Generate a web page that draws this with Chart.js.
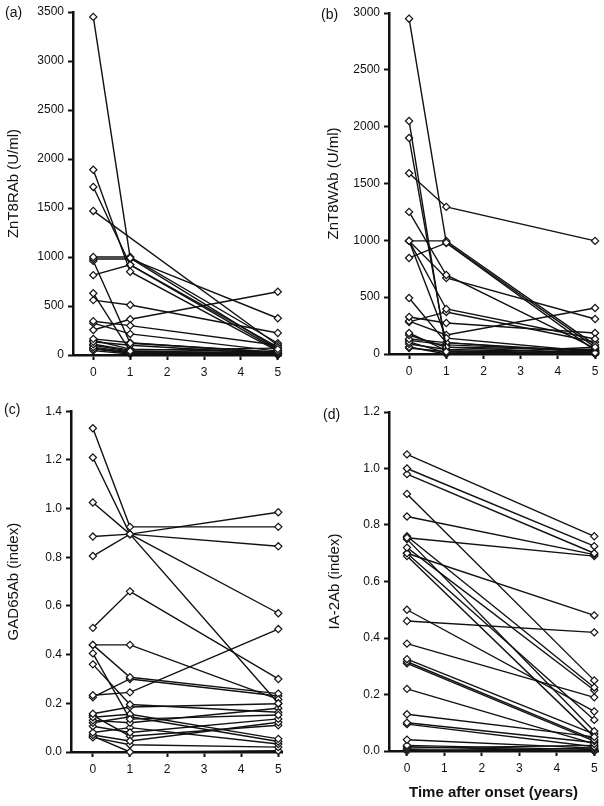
<!DOCTYPE html>
<html>
<head>
<meta charset="utf-8">
<script src="https://cdn.jsdelivr.net/npm/chart.js@4/dist/chart.umd.min.js"></script>
<style>
  body { margin: 0; background: #fff; width: 604px; height: 806px; position: relative; overflow: hidden; }
  .panel { position: absolute; }
  .tag { position: absolute; font: 14px "Liberation Sans", Arial, sans-serif; color: #111; }
</style>
</head>
<body>
<div class="panel" style="left:0;top:0"><canvas id="chartA" width="300" height="400"></canvas></div>
<div class="panel" style="left:300px;top:0"><canvas id="chartB" width="304" height="400"></canvas></div>
<div class="panel" style="left:0;top:400px"><canvas id="chartC" width="300" height="406"></canvas></div>
<div class="panel" style="left:300px;top:400px"><canvas id="chartD" width="304" height="406"></canvas></div>
<div class="tag" style="left:5px;top:4px">(a)</div>
<div class="tag" style="left:321px;top:6px">(b)</div>
<div class="tag" style="left:4px;top:401px">(c)</div>
<div class="tag" style="left:323px;top:406px">(d)</div>
<script>
// years after onset at which samples were taken
const years = [0, 1, 5];
const yearsD = [0, 5];

// (a) ZnT8RAb (U/ml), one entry per patient
const aYear0 = [3450, 1890, 1715, 1470, 1000, 980, 960, 815, 630, 560, 345, 325, 255, 165, 135, 110, 80, 60, 45, 150, 100, 70];
const aYear1 = [990, 850, 920, null, 1000, 980, 120, 920, 40, 510, 300, 215, 365, 125, 100, 50, 30, 20, 10, 60, 40, 20];
const aYear5 = [60, 40, 80, 100, 120, 375, 30, 50, 20, 225, 100, 40, 645, 20, 10, 70, 10, 5, 5, 30, 15, 0];

// (b) ZnT8WAb (U/ml)
const bYear0 = [2950, 2050, 1900, 1590, 1250, 995, 995, 995, 845, 995, 493, 326, 290, 282, 185, 167, 132, 106, 88, 62, 53, 120];
const bYear1 = [980, 20, 60, 1294, 695, 995, 396, 140, 977, 669, 100, 273, 167, 370, 30, 60, 100, 10, 40, 0, 20, 80];
const bYear5 = [60, 10, 5, 995, 50, 80, 132, 20, 30, 308, 10, 185, 405, 106, 0, 40, 20, 5, 15, 60, 0, 30];

// (c) GAD65Ab (index)
const cYear0 = [1.33, 1.21, 1.025, 0.885, 0.805, 0.51, 0.44, 0.44, 0.405, 0.36, 0.233, 0.225, 0.157, 0.143, 0.13, 0.12, 0.106, 0.08, 0.07, 0.06, 0.065, 0.15];
const cYear1 = [0.925, 0.895, 0.895, 0.895, 0.895, 0.66, 0.44, 0.307, 0.135, 0.195, 0.245, 0.30, 0.185, 0.155, 0.12, 0.145, 0.08, 0.10, 0.045, 0.03, 0.0, 0.065];
const cYear5 = [0.925, 0.20, 0.57, 0.985, 0.845, 0.30, 0.216, 0.24, 0.152, 0.163, 0.505, 0.23, 0.198, 0.054, 0.18, 0.043, 0.136, 0.033, 0.122, 0.02, 0.005, 0.11];

// (d) IA-2Ab (index), no 1-year samples
const dYear0 = [1.05, 1.0, 0.98, 0.91, 0.83, 0.755, 0.76, 0.72, 0.70, 0.69, 0.70, 0.75, 0.50, 0.46, 0.38, 0.325, 0.316, 0.31, 0.22, 0.13, 0.10, 0.095, 0.04, 0.02, 0.015, 0.01, 0.005, 0.0];
const dYear5 = [0.76, 0.725, 0.70, 0.25, 0.695, 0.69, 0.225, 0.215, 0.48, 0.05, 0.11, 0.07, 0.14, 0.42, 0.19, 0.06, 0.04, 0.035, 0.025, 0.05, 0.03, 0.015, 0.01, 0.005, 0.0, 0.02, 0.0, 0.01];

// tick values
const xTicks = [0, 1, 2, 3, 4, 5];
const aTicks = [0, 500, 1000, 1500, 2000, 2500, 3000, 3500];
const bTicks = [0, 500, 1000, 1500, 2000, 2500, 3000];
const cTicks = [0, 0.2, 0.4, 0.6, 0.8, 1.0, 1.2, 1.4];
const dTicks = [0, 0.2, 0.4, 0.6, 0.8, 1.0, 1.2];

const FONT = '"Liberation Sans", Arial, Helvetica, sans-serif';

function buildSets(cols, yrs) {
    let sets = [];
    for (let i = 0; i < cols[0].length; i++) {
        let pts = [];
        for (let k = 0; k < yrs.length; k++) {
            if (cols[k][i] != null) pts.push({ x: yrs[k], y: cols[k][i] });
        }
        sets.push({
            data: pts,
            borderColor: '#111',
            borderWidth: 1.4,
            pointStyle: 'rectRot',
            pointRadius: 3.6,
            pointBorderWidth: 1.2,
            pointBackgroundColor: '#fff',
            pointBorderColor: '#111',
            clip: false
        });
    }
    return sets;
}

function makePanel(id, cols, yrs, o) {
    new Chart(document.getElementById(id), {
        type: 'line',
        data: { datasets: buildSets(cols, yrs) },
        options: {
            responsive: false,
            animation: false,
            events: [],
            layout: { padding: { top: o.top, right: o.right, left: 0, bottom: 0 } },
            plugins: { legend: { display: false }, tooltip: { enabled: false } },
            scales: {
                x: {
                    type: 'linear',
                    min: o.xmin,
                    max: 5.1,
                    afterBuildTicks: s => { s.ticks = xTicks.map(v => ({ value: v })); },
                    afterFit: s => { s.height = o.xh; },
                    grid: { drawOnChartArea: false, drawTicks: true, tickLength: 5, tickWidth: 2, tickColor: '#111' },
                    border: { color: '#111', width: 2.5 },
                    ticks: { color: '#111', padding: 5, font: { family: FONT, size: 12 }, callback: v => String(v) },
                    title: {
                        display: !!o.xTitle,
                        text: o.xTitle || '',
                        color: '#111',
                        font: { family: FONT, size: 15, weight: 'bold' },
                        padding: { top: 0, bottom: 4 }
                    }
                },
                y: {
                    type: 'linear',
                    min: 0,
                    max: o.yTicks[o.yTicks.length - 1],
                    afterBuildTicks: s => { s.ticks = o.yTicks.map(v => ({ value: v })); },
                    afterFit: s => { s.width = o.yw; },
                    grid: { drawOnChartArea: false, drawTicks: true, tickLength: 5, tickWidth: 2, tickColor: '#111' },
                    border: { color: '#111', width: 2.5 },
                    ticks: { color: '#111', padding: 4, font: { family: FONT, size: 12 }, callback: o.fmt },
                    title: {
                        display: true,
                        text: o.yTitle,
                        color: '#111',
                        font: { family: FONT, size: 15 },
                        padding: { top: o.titlePad, bottom: 0 }
                    }
                }
            }
        }
    });
}

const intFmt = v => String(v);
const decFmt = v => v.toFixed(1);

makePanel('chartA', [aYear0, aYear1, aYear5], years,
    { top: 12, right: 18.5, xmin: -0.55, xh: 45, yw: 73, yTicks: aTicks, fmt: intFmt, yTitle: 'ZnT8RAb (U/ml)', titlePad: 5 });
makePanel('chartB', [bYear0, bYear1, bYear5], years,
    { top: 13, right: 5, xmin: -0.54, xh: 46, yw: 89, yTicks: bTicks, fmt: intFmt, yTitle: 'ZnT8WAb (U/ml)', titlePad: 25 });
makePanel('chartC', [cYear0, cYear1, cYear5], years,
    { top: 10, right: 18, xmin: -0.59, xh: 54, yw: 71, yTicks: cTicks, fmt: decFmt, yTitle: 'GAD65Ab (index)', titlePad: 5 });
makePanel('chartD', [dYear0, dYear5], yearsD,
    { top: 12, right: 6, xmin: -0.48, xh: 55, yw: 89, yTicks: dTicks, fmt: decFmt, yTitle: 'IA-2Ab (index)', titlePad: 26, xTitle: 'Time after onset (years)' });
</script>
</body>
</html>
